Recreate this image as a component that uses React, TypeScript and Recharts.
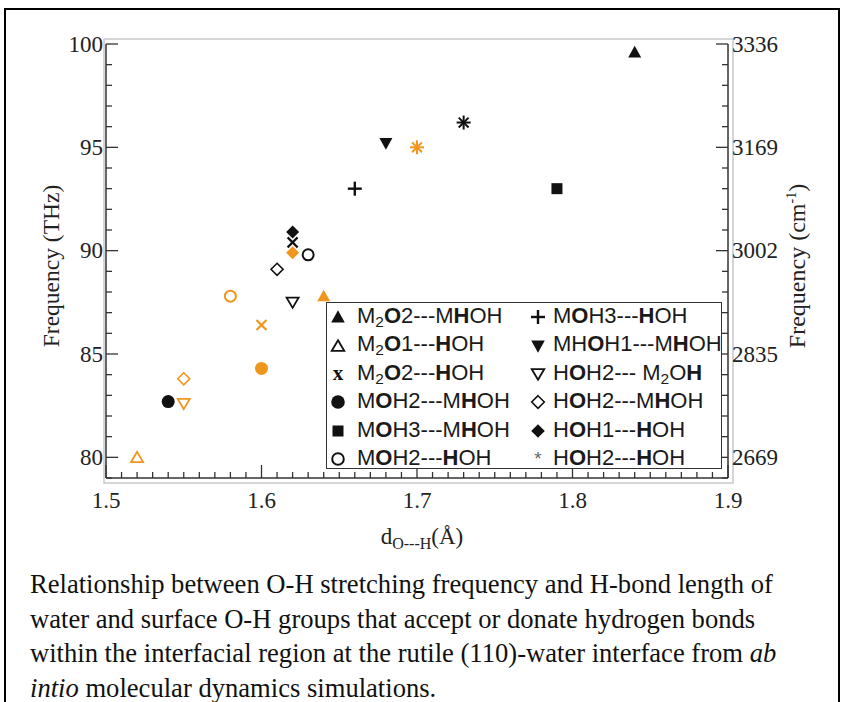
import React from 'react';
import { ScatterChart, Scatter, XAxis, YAxis, ReferenceArea, Label } from 'recharts';

// ---- data ----
const categories = [
  'M{2}[O]2---M[H]OH',
  'M{2}[O]1---[H]OH',
  'M{2}[O]2---[H]OH',
  'M[O]H2---M[H]OH',
  'M[O]H3---M[H]OH',
  'M[O]H2---[H]OH',
  'M[O]H3---[H]OH',
  'MH[O]H1---M[H]OH',
  'H[O]H2--- M{2}O[H]',
  'H[O]H2---M[H]OH',
  'H[O]H1---[H]OH',
  'H[O]H2---[H]OH',
];
const blackX = [1.84, null, 1.62, 1.54, 1.79, 1.63, 1.66, 1.68, 1.62, 1.61, 1.62, 1.73];
const blackY = [99.6, null, 90.4, 82.7, 93.0, 89.8, 93.0, 95.2, 87.5, 89.1, 90.9, 96.2];
const orangeX = [1.64, 1.52, 1.60, 1.60, null, 1.58, null, null, 1.55, 1.55, 1.62, 1.70];
const orangeY = [87.8, 80.0, 86.4, 84.3, null, 87.8, null, null, 82.6, 83.8, 89.9, 95.0];

const xMajorTicks = [1.5, 1.6, 1.7, 1.8, 1.9];
const xTickLabels = ['1.5', '1.6', '1.7', '1.8', '1.9'];
const yMajorTicks = [80, 85, 90, 95, 100];
const yTickLabels = ['80', '85', '90', '95', '100'];
const yRightTickLabels = ['2669', '2835', '3002', '3169', '3336'];

const captionLines = [
  'Relationship between O-H stretching frequency and H-bond length of',
  'water and surface O-H groups that accept or donate hydrogen bonds',
  'within the interfacial region at the rutile (110)-water interface from ',
  ' molecular dynamics simulations.',
];

// ---- styles ----
const markerTypes = ['tri', 'triOpen', 'x', 'circle', 'square', 'circleOpen', 'plus', 'triDown', 'triDownOpen', 'diamondOpen', 'diamond', 'star'];
const BLACK = '#111';
const ORANGE = '#F0961E';
const AXIS = '#333';
const SERIF = '"Liberation Serif", "Times New Roman", serif';
const SANS = '"Liberation Sans", Arial, sans-serif';

const xMinorTicks: number[] = [];
for (let i = 0; i <= 40; i++) xMinorTicks.push(Math.round((1.5 + i * 0.01) * 100) / 100);
const yMinorTicks: number[] = [];
for (let v = 79; v <= 100; v++) yMinorTicks.push(v);

const isXMajor = (v: number) => xMajorTicks.some((m) => Math.abs(m - v) < 1e-6);
const isYMajor = (v: number) => yMajorTicks.some((m) => Math.abs(m - v) < 1e-6);

function Marker({ type, color, cx, cy, s = 6.5 }: any) {
  const sw = 1.8;
  switch (type) {
    case 'tri':
      return <polygon points={`${cx},${cy - s} ${cx + s},${cy + s * 0.8} ${cx - s},${cy + s * 0.8}`} fill={color} />;
    case 'triOpen':
      return <polygon points={`${cx},${cy - s + 1} ${cx + s - 0.5},${cy + s * 0.8 - 0.5} ${cx - s + 0.5},${cy + s * 0.8 - 0.5}`} fill="#fff" stroke={color} strokeWidth={sw} />;
    case 'triDown':
      return <polygon points={`${cx},${cy + s} ${cx + s},${cy - s * 0.8} ${cx - s},${cy - s * 0.8}`} fill={color} />;
    case 'triDownOpen':
      return <polygon points={`${cx},${cy + s - 1} ${cx + s - 0.5},${cy - s * 0.8 + 0.5} ${cx - s + 0.5},${cy - s * 0.8 + 0.5}`} fill="#fff" stroke={color} strokeWidth={sw} />;
    case 'x': {
      const h = 5;
      return (
        <g stroke={color} strokeWidth={2.2}>
          <line x1={cx - h} y1={cy - h} x2={cx + h} y2={cy + h} />
          <line x1={cx - h} y1={cy + h} x2={cx + h} y2={cy - h} />
        </g>
      );
    }
    case 'circle':
      return <circle cx={cx} cy={cy} r={s} fill={color} />;
    case 'circleOpen':
      return <circle cx={cx} cy={cy} r={s - 1} fill="#fff" stroke={color} strokeWidth={2} />;
    case 'square':
      return <rect x={cx - 5.5} y={cy - 5.5} width={11} height={11} fill={color} />;
    case 'plus': {
      const h = 7;
      return (
        <g stroke={color} strokeWidth={2.4}>
          <line x1={cx - h} y1={cy} x2={cx + h} y2={cy} />
          <line x1={cx} y1={cy - h} x2={cx} y2={cy + h} />
        </g>
      );
    }
    case 'diamond':
      return <polygon points={`${cx},${cy - s} ${cx + s},${cy} ${cx},${cy + s} ${cx - s},${cy}`} fill={color} />;
    case 'diamondOpen':
      return <polygon points={`${cx},${cy - s + 0.5} ${cx + s - 0.5},${cy} ${cx},${cy + s - 0.5} ${cx - s + 0.5},${cy}`} fill="#fff" stroke={color} strokeWidth={1.6} />;
    case 'star': {
      const h = 7;
      const d = h * 0.7071;
      return (
        <g stroke={color} strokeWidth={2}>
          <line x1={cx - h} y1={cy} x2={cx + h} y2={cy} />
          <line x1={cx} y1={cy - h} x2={cx} y2={cy + h} />
          <line x1={cx - d} y1={cy - d} x2={cx + d} y2={cy + d} />
          <line x1={cx - d} y1={cy + d} x2={cx + d} y2={cy - d} />
        </g>
      );
    }
    default:
      return null;
  }
}

function buildSeries(i: number) {
  const pts: any[] = [];
  if (blackX[i] != null && blackY[i] != null) pts.push({ x: blackX[i], y: blackY[i], color: BLACK });
  if (orangeX[i] != null && orangeY[i] != null) pts.push({ x: orangeX[i], y: orangeY[i], color: ORANGE });
  return pts;
}

function RichLabel({ text }: { text: string }) {
  const parts = text.split(/(\{[^}]*\}|\[[^\]]*\])/).filter((p) => p.length > 0);
  return (
    <span>
      {parts.map((p, k) => {
        if (p.startsWith('{')) return <sub key={k} style={{ fontSize: '0.7em', verticalAlign: '-0.25em', lineHeight: 0 }}>{p.slice(1, -1)}</sub>;
        if (p.startsWith('[')) return <b key={k} style={{ fontWeight: 700 }}>{p.slice(1, -1)}</b>;
        return <span key={k}>{p}</span>;
      })}
    </span>
  );
}

function LegendMarker({ type }: { type: string }) {
  if (type === 'x') {
    return <span style={{ fontFamily: SERIF, fontWeight: 700, fontSize: 21, color: BLACK, display: 'inline-block', width: 16, textAlign: 'center' }}>x</span>;
  }
  if (type === 'star') {
    return <span style={{ fontFamily: SANS, fontSize: 19, color: '#666', display: 'inline-block', width: 16, textAlign: 'center' }}>*</span>;
  }
  return (
    <svg width={16} height={16} style={{ verticalAlign: 'middle', overflow: 'visible' }}>
      <Marker type={type} color={BLACK} cx={8} cy={8} s={6.8} />
    </svg>
  );
}

const XTick = (top: boolean) => (props: any) => {
  const { x, y, payload } = props;
  const v = payload.value;
  const major = isXMajor(v);
  const len = major ? 13 : 6;
  const idx = xMajorTicks.findIndex((m) => Math.abs(m - v) < 1e-6);
  return (
    <g>
      <line x1={x} x2={x} y1={y} y2={top ? y + len : y - len} stroke={AXIS} strokeWidth={1.3} />
      {!top && major && (
        <text x={x} y={y + 30} textAnchor="middle" fontFamily={SERIF} fontSize={23} fill="#222">
          {xTickLabels[idx]}
        </text>
      )}
    </g>
  );
};

const YTick = (right: boolean) => (props: any) => {
  const { x, y, payload } = props;
  const v = payload.value;
  const major = isYMajor(v);
  const len = major ? 12 : 6;
  const idx = yMajorTicks.findIndex((m) => Math.abs(m - v) < 1e-6);
  return (
    <g>
      <line x1={x} x2={right ? x - len : x + len} y1={y} y2={y} stroke={AXIS} strokeWidth={1.3} />
      {major && (
        <text x={right ? x + 4 : x - 3} y={y} dy="0.33em" textAnchor={right ? 'start' : 'end'} fontFamily={SERIF} fontSize={23} fill="#222">
          {right ? yRightTickLabels[idx] : yTickLabels[idx]}
        </text>
      )}
    </g>
  );
};

const XLabelContent = (props: any) => {
  const vb = props.viewBox || {};
  const cx = vb.x + vb.width / 2 + 5;
  return (
    <text x={cx} y={vb.y + 66} textAnchor="middle" fontFamily={SERIF} fontSize={23} fill="#222">
      d
      <tspan fontSize={16} dy={5}>O---H</tspan>
      <tspan fontSize={23} dy={-5}>(Å)</tspan>
    </text>
  );
};

const YLabelLeft = (props: any) => {
  const vb = props.viewBox || {};
  const cx = 51;
  const cy = vb.y + vb.height / 2 + 5;
  return (
    <text x={cx} y={cy} dy="0.35em" textAnchor="middle" fontFamily={SERIF} fontSize={23.5} fill="#222" transform={`rotate(-90 ${cx} ${cy})`}>
      Frequency (THz)
    </text>
  );
};

const YLabelRight = (props: any) => {
  const vb = props.viewBox || {};
  const cx = 797;
  const cy = vb.y + vb.height / 2 + 5;
  return (
    <text x={cx} y={cy} dy="0.35em" textAnchor="middle" fontFamily={SERIF} fontSize={24} fill="#222" transform={`rotate(-90 ${cx} ${cy})`}>
      Frequency (cm
      <tspan fontSize={14} dy={-9}>-1</tspan>
      <tspan fontSize={24} dy={9}>)</tspan>
    </text>
  );
};

const FrameShadow = (p: any) => (
  <rect x={p.x - 2} y={p.y - 5} width={p.width + 7} height={p.height + 10} fill="none" stroke="#c8c8c8" strokeWidth={1.5} />
);

export default function App() {
  const axisLine = { stroke: AXIS, strokeWidth: 1.5 };
  return (
    <div style={{ position: 'absolute', left: 0, top: 0, width: 844, height: 702, background: '#fff', overflow: 'hidden' }}>
      <div style={{ position: 'absolute', left: 4, top: 8, width: 836, height: 720, borderLeft: '2px solid #000', borderRight: '2px solid #000', borderTop: '2px solid #000', boxSizing: 'border-box' }} />
      <div style={{ position: 'absolute', left: 0, top: 0 }}>
        <ScatterChart width={844} height={560} margin={{ top: 44, right: 56, bottom: 42, left: 46 }}>
          <ReferenceArea xAxisId="b" yAxisId="l" x1={1.5} x2={1.9} y1={79} y2={100} ifOverflow="visible" shape={FrameShadow} />
          <XAxis xAxisId="b" dataKey="x" type="number" domain={[1.5, 1.9]} allowDataOverflow ticks={xMinorTicks} interval={0} tickSize={0} tickMargin={0} tickLine={false} axisLine={axisLine} tick={XTick(false)} height={40}>
            <Label content={XLabelContent} />
          </XAxis>
          <XAxis xAxisId="t" orientation="top" type="number" domain={[1.5, 1.9]} allowDataOverflow ticks={xMinorTicks} interval={0} tickSize={0} tickMargin={0} tickLine={false} axisLine={axisLine} tick={XTick(true)} height={0} />
          <YAxis yAxisId="l" dataKey="y" type="number" domain={[79, 100]} allowDataOverflow ticks={yMinorTicks} interval={0} tickSize={0} tickMargin={0} tickLine={false} axisLine={axisLine} tick={YTick(false)} width={60}>
            <Label content={YLabelLeft} />
          </YAxis>
          <YAxis yAxisId="r" orientation="right" type="number" domain={[79, 100]} allowDataOverflow ticks={yMinorTicks} interval={0} tickSize={0} tickMargin={0} tickLine={false} axisLine={axisLine} tick={YTick(true)} width={60}>
            <Label content={YLabelRight} />
          </YAxis>
          {categories.map((c, i) => (
            <Scatter
              key={c}
              name={c}
              xAxisId="b"
              yAxisId="l"
              data={buildSeries(i)}
              isAnimationActive={false}
              shape={(p: any) => <Marker type={markerTypes[i]} color={p.payload.color} cx={p.cx} cy={p.cy} />}
            />
          ))}
        </ScatterChart>
      </div>
      {/* legend */}
      <div style={{ position: 'absolute', left: 326, top: 302, width: 396, height: 167, border: '1.5px solid #333', boxSizing: 'border-box', background: '#fff', fontFamily: SANS, fontSize: 22, color: '#1a1a1a' }}>
        {categories.map((c, i) => {
          const col = i < 6 ? 0 : 1;
          const row = i % 6;
          const markerLeft = col === 0 ? 2 : 202;
          const textLeft = col === 0 ? 30 : 226;
          const top = 13 + row * 28.4 - 14;
          return (
            <React.Fragment key={c}>
              <div style={{ position: 'absolute', left: markerLeft, top, height: 28, lineHeight: '28px', width: 18, textAlign: 'center' }}>
                <LegendMarker type={markerTypes[i]} />
              </div>
              <div style={{ position: 'absolute', left: textLeft, top, height: 28, lineHeight: '28px', whiteSpace: 'nowrap' }}>
                <RichLabel text={c} />
              </div>
            </React.Fragment>
          );
        })}
      </div>
      {/* caption */}
      <div style={{ position: 'absolute', left: 30, top: 567, fontFamily: SERIF, fontSize: 26.6, lineHeight: '34.5px', color: '#111', whiteSpace: 'nowrap' }}>
        <div>{captionLines[0]}</div>
        <div>{captionLines[1]}</div>
        <div>{captionLines[2]}<i>ab</i></div>
        <div><i>intio</i>{captionLines[3]}</div>
      </div>
    </div>
  );
}
